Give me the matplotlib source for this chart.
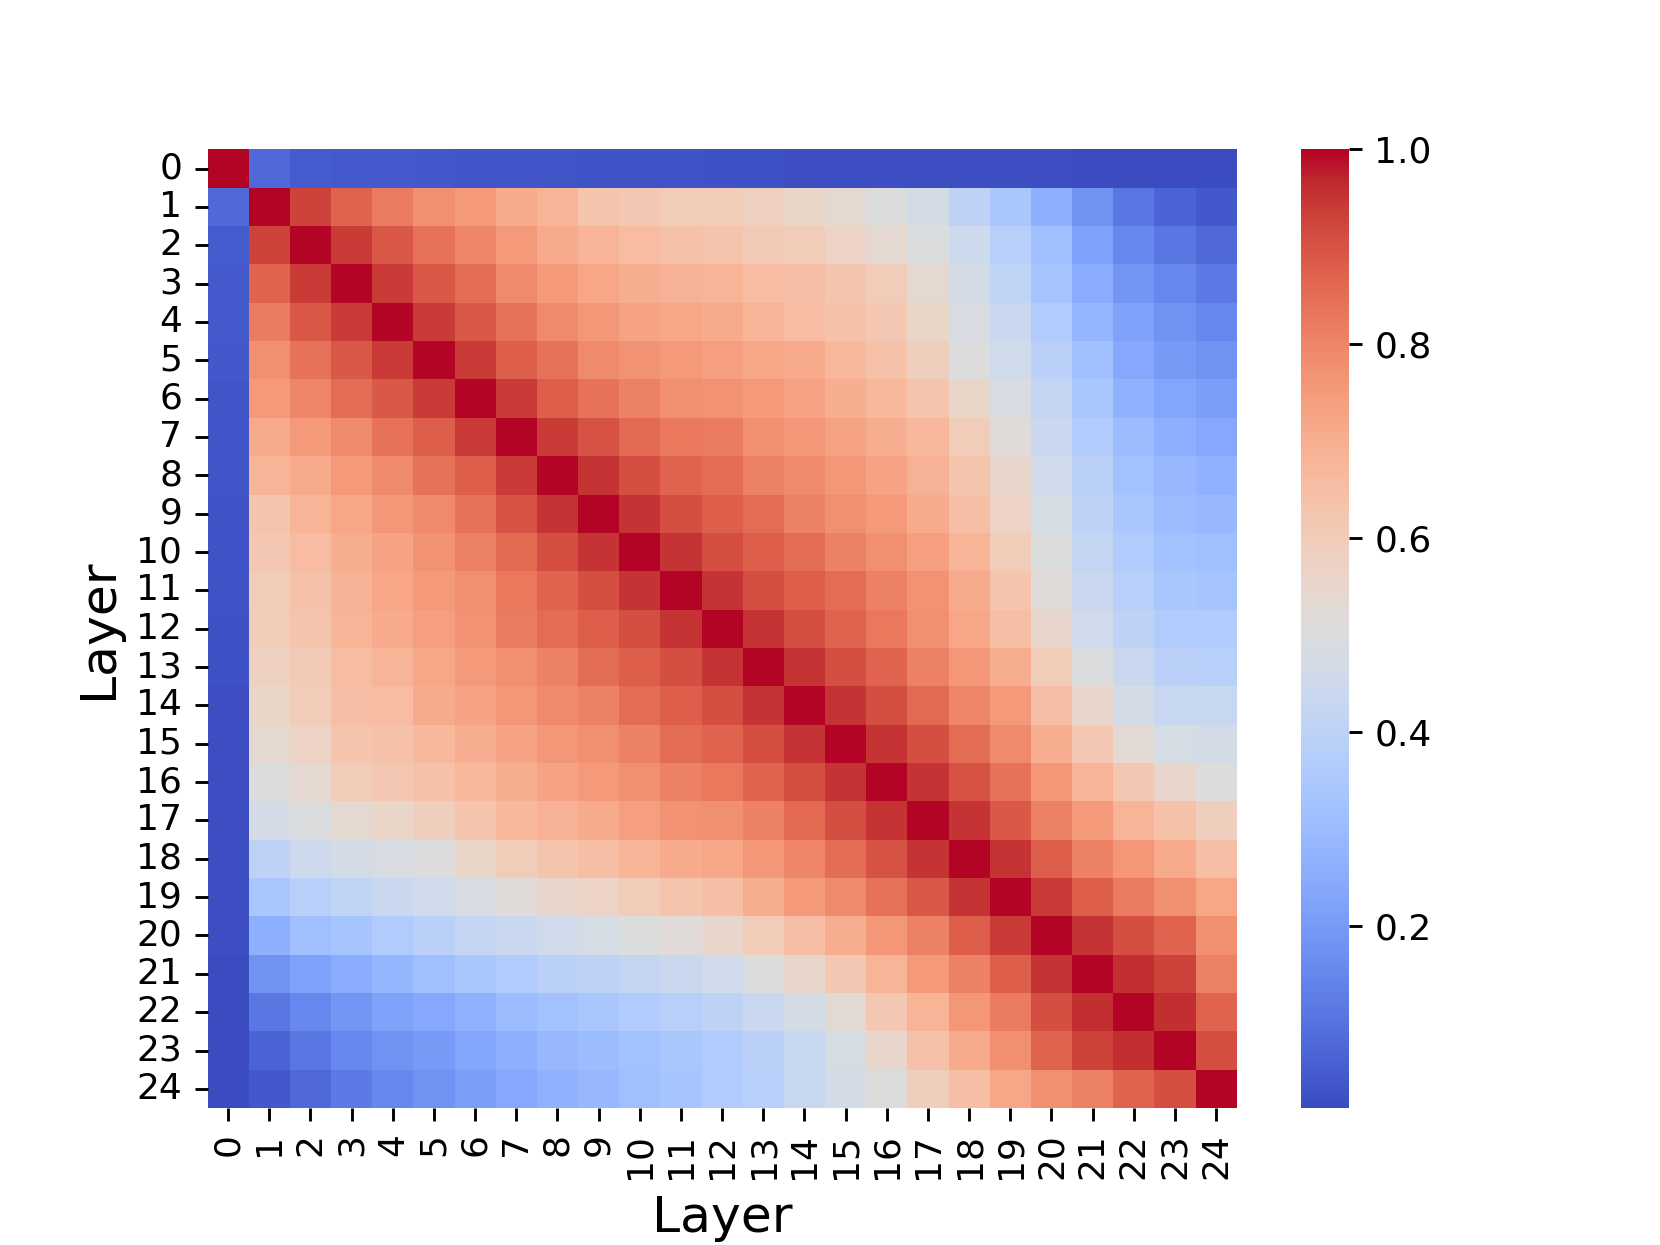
import numpy as np
import matplotlib
matplotlib.use("Agg")
import matplotlib.pyplot as plt
import seaborn as sns

layers = list(range(25))

# Upper triangle of the symmetric layer-similarity matrix: row i holds columns i+1..24
row0 = [0.08, 0.05, 0.045, 0.045, 0.04, 0.035, 0.035, 0.035, 0.03, 0.03, 0.03, 0.025,
        0.025, 0.02, 0.02, 0.02, 0.02, 0.018, 0.018, 0.018, 0.013, 0.013, 0.015, 0.015]
row1 = [0.93, 0.87, 0.82, 0.78, 0.75, 0.71, 0.68, 0.63, 0.62, 0.60, 0.60, 0.58, 0.56,
        0.54, 0.51, 0.47, 0.40, 0.34, 0.26, 0.18, 0.11, 0.07, 0.04]
row2 = [0.94, 0.89, 0.84, 0.80, 0.75, 0.71, 0.68, 0.66, 0.64, 0.63, 0.61, 0.60, 0.57,
        0.54, 0.50, 0.45, 0.38, 0.31, 0.22, 0.15, 0.11, 0.08]
row3 = [0.94, 0.89, 0.85, 0.79, 0.75, 0.72, 0.70, 0.69, 0.68, 0.66, 0.65, 0.63, 0.60,
        0.54, 0.47, 0.41, 0.33, 0.25, 0.19, 0.15, 0.12]
row4 = [0.94, 0.89, 0.84, 0.79, 0.76, 0.73, 0.72, 0.71, 0.68, 0.66, 0.64, 0.62, 0.56,
        0.49, 0.44, 0.36, 0.28, 0.22, 0.18, 0.15]
row5 = [0.94, 0.88, 0.84, 0.79, 0.77, 0.75, 0.74, 0.72, 0.71, 0.67, 0.64, 0.59, 0.51,
        0.46, 0.39, 0.31, 0.24, 0.20, 0.18]
row6 = [0.94, 0.88, 0.84, 0.81, 0.78, 0.77, 0.75, 0.73, 0.70, 0.67, 0.63, 0.56, 0.49,
        0.42, 0.34, 0.27, 0.23, 0.21]
row7 = [0.94, 0.90, 0.86, 0.83, 0.82, 0.78, 0.76, 0.73, 0.70, 0.67, 0.60, 0.52, 0.44,
        0.36, 0.30, 0.26, 0.24]
row8 = [0.95, 0.91, 0.87, 0.85, 0.81, 0.79, 0.76, 0.73, 0.69, 0.63, 0.55, 0.46, 0.39,
        0.32, 0.29, 0.27]
row9 = [0.95, 0.91, 0.88, 0.85, 0.81, 0.78, 0.75, 0.71, 0.65, 0.57, 0.48, 0.40, 0.34,
        0.30, 0.29]
row10 = [0.95, 0.91, 0.88, 0.85, 0.81, 0.78, 0.74, 0.68, 0.60, 0.50, 0.42, 0.36, 0.32,
         0.31]
row11 = [0.95, 0.91, 0.88, 0.85, 0.81, 0.77, 0.71, 0.63, 0.52, 0.44, 0.38, 0.34, 0.33]
row12 = [0.95, 0.91, 0.87, 0.83, 0.78, 0.72, 0.65, 0.55, 0.46, 0.40, 0.36, 0.36]
row13 = [0.95, 0.91, 0.87, 0.81, 0.76, 0.70, 0.60, 0.50, 0.44, 0.39, 0.38]
row14 = [0.95, 0.91, 0.86, 0.80, 0.75, 0.65, 0.55, 0.47, 0.43, 0.43]
row15 = [0.95, 0.91, 0.85, 0.79, 0.70, 0.62, 0.53, 0.48, 0.47]
row16 = [0.95, 0.90, 0.84, 0.76, 0.68, 0.62, 0.55, 0.51]
row17 = [0.95, 0.89, 0.81, 0.75, 0.68, 0.64, 0.59]
row18 = [0.95, 0.88, 0.81, 0.76, 0.71, 0.65]
row19 = [0.94, 0.88, 0.82, 0.78, 0.72]
row20 = [0.95, 0.91, 0.87, 0.78]
row21 = [0.96, 0.93, 0.81]
row22 = [0.96, 0.87]
row23 = [0.91]

upper_rows = [row0, row1, row2, row3, row4, row5, row6, row7, row8, row9, row10, row11,
              row12, row13, row14, row15, row16, row17, row18, row19, row20, row21,
              row22, row23]

n = len(layers)
sim = np.eye(n)
for i, r in enumerate(upper_rows):
    for k, v in enumerate(r):
        j = i + 1 + k
        sim[i, j] = v
        sim[j, i] = v

fig = plt.figure(figsize=(6.4, 4.8), dpi=259.375)
ax = sns.heatmap(sim, cmap="coolwarm", xticklabels=layers, yticklabels=layers)
ax.set_xlabel("Layer", fontsize=14)
ax.set_ylabel("Layer", fontsize=14)
plt.setp(ax.get_xticklabels(), rotation=90)
plt.setp(ax.get_yticklabels(), rotation=0)
fig.savefig("out.png", dpi=259.375)
